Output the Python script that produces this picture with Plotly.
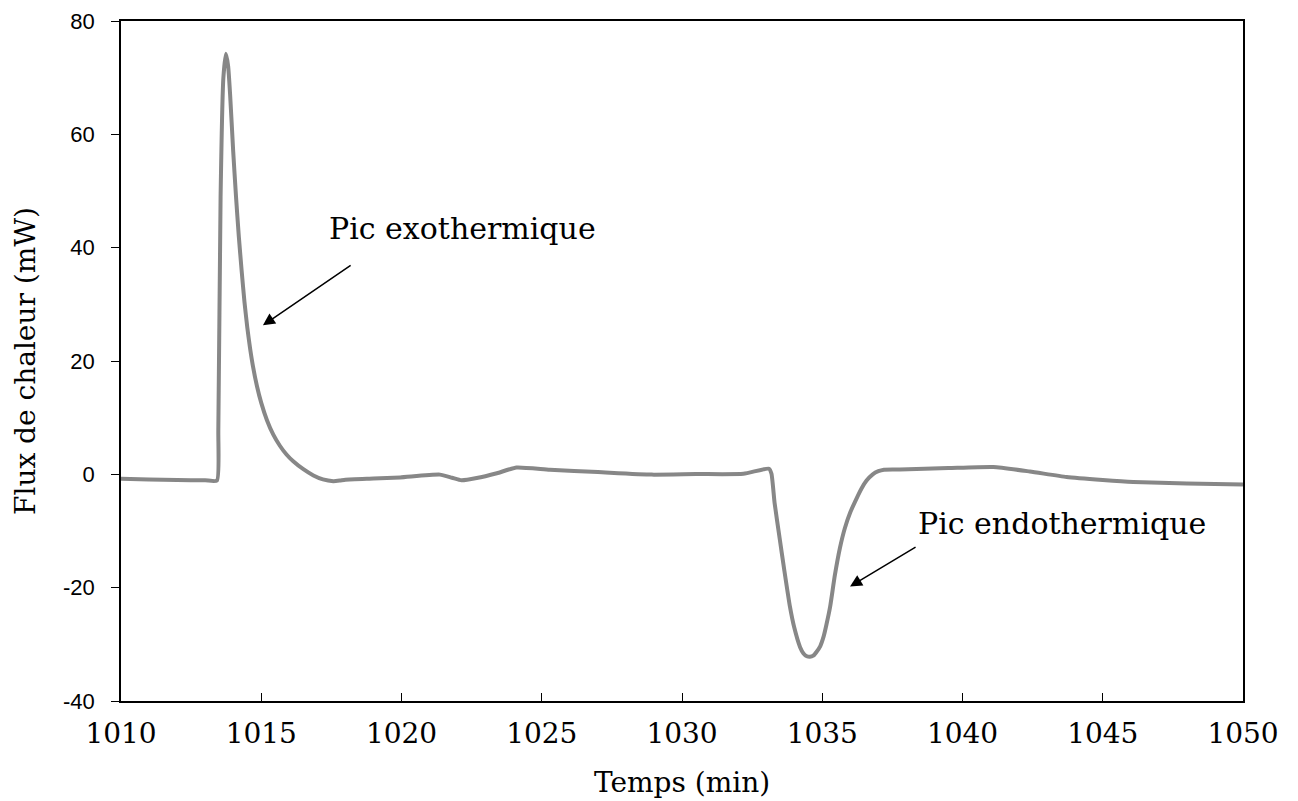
import plotly.graph_objects as go

# Data (time in min, heat flow in mW)
temps = [1010, 1011, 1012, 1013, 1013.42, 1013.47, 1013.55, 1013.65, 1013.74, 1013.82,
         1013.89, 1014.0, 1014.1, 1014.2, 1014.3, 1014.4, 1014.5, 1014.6, 1014.7, 1014.85,
         1015.0, 1015.2, 1015.43, 1015.67, 1015.9, 1016.14, 1016.5, 1016.86, 1017.2, 1017.57,
         1017.8, 1018.0, 1019.0, 1019.95,
         1021.37, 1021.8, 1022.14, 1022.68, 1023.4, 1024.1, 1025.29, 1027.0, 1028.92, 1030.5,
         1032.19, 1033.1, 1033.19, 1033.3, 1033.49, 1033.65, 1033.85, 1034.0, 1034.21, 1034.33,
         1034.45, 1034.56, 1034.68, 1034.8, 1034.93, 1035.05, 1035.15, 1035.28, 1035.45, 1035.63,
         1035.8, 1036.0, 1036.23, 1036.4, 1036.58, 1036.8, 1037.0, 1037.2,
         1037.77, 1039.5, 1041.1, 1042.4, 1043.71, 1045.0, 1046.09, 1048.0, 1050.0]
flux = [-0.8, -0.9, -1.0, -1.05, -1.1, 7.8, 48.9, 70.0, 74.2, 72.0,
        67.0, 57.0, 49.0, 42.0, 36.0, 30.5, 26.0, 22.3, 19.2, 15.5,
        12.6, 9.6, 7.0, 5.0, 3.5, 2.3, 0.9, -0.2, -0.9, -1.2,
        -1.1, -0.95, -0.75, -0.55,
        -0.05, -0.6, -1.05, -0.65, 0.2, 1.2, 0.8, 0.4, -0.05, 0.05,
        0.1, 1.0, 0.1, -5.0, -11.6, -17.0, -23.4, -27.0, -30.5, -31.6,
        -32.1, -32.2, -32.0, -31.3, -30.3, -28.6, -26.5, -23.4, -17.8, -13.0,
        -9.6, -6.7, -4.2, -2.5, -1.1, 0.0, 0.55, 0.82,
        0.85, 1.1, 1.3, 0.5, -0.47, -1.0, -1.35, -1.6, -1.8]

x_ticks = [1010, 1015, 1020, 1025, 1030, 1035, 1040, 1045, 1050]
y_ticks = [-40, -20, 0, 20, 40, 60, 80]
y_tick_labels = ["-40", "-20", "0", "20", "40", "60", "80"]

serif = "DejaVu Serif"
sans = "Liberation Sans, Arial, sans-serif"

fig = go.Figure()
fig.add_trace(go.Scatter(x=temps, y=flux, mode="lines",
                         line=dict(color="#878787", width=4, shape="spline", smoothing=0.5),
                         showlegend=False, hoverinfo="skip"))

fig.update_layout(
    width=1298, height=801,
    margin=dict(l=113, r=63, t=13, b=108),
    paper_bgcolor="white", plot_bgcolor="white",
    xaxis=dict(range=[1010, 1050], tickvals=x_ticks, ticks="inside", ticklen=8,
               tickwidth=1.2, tickcolor="black", showline=True, linecolor="black",
               linewidth=1.5, mirror=True, showgrid=False, zeroline=False,
               automargin=False,
               tickfont=dict(family=serif, size=28, color="black"),
               ticklabelstandoff=7,
               title=dict(text="Temps (min)", font=dict(family=serif, size=28, color="black"),
                          standoff=23)),
    yaxis=dict(range=[-40, 80], tickvals=y_ticks, ticktext=y_tick_labels, ticks="outside",
               ticklen=8, tickwidth=1.2, tickcolor="black", showline=True, linecolor="black",
               linewidth=1.5, mirror=True, showgrid=False, zeroline=False,
               automargin=False,
               tickfont=dict(family=sans, size=22, color="black"),
               ticklabelstandoff=12),
)

# y-axis title placed as rotated text left of the tick labels
fig.add_annotation(x=0, y=0.5, xref="paper", yref="paper", xanchor="center", yanchor="middle",
                   xshift=-96, textangle=-90, text="Flux de chaleur (mW)", showarrow=False,
                   font=dict(family=serif, size=28, color="black"))

fig.add_annotation(x=1022.19, y=43.4, xref="x", yref="y", text="Pic exothermique",
                   showarrow=False, font=dict(family=serif, size=30, color="black"))
fig.add_annotation(x=1043.55, y=-8.6, xref="x", yref="y", text="Pic endothermique",
                   showarrow=False, font=dict(family=serif, size=30, color="black"))

fig.add_annotation(x=1015.06, y=26.3, ax=1018.24, ay=37.06, xref="x", yref="y",
                   axref="x", ayref="y", text="", showarrow=True, arrowhead=2,
                   arrowsize=1.6, arrowwidth=1.5, arrowcolor="black")
fig.add_annotation(x=1035.99, y=-19.8, ax=1038.38, ay=-12.7, xref="x", yref="y",
                   axref="x", ayref="y", text="", showarrow=True, arrowhead=2,
                   arrowsize=1.6, arrowwidth=1.5, arrowcolor="black")

fig.write_html("out.html")
